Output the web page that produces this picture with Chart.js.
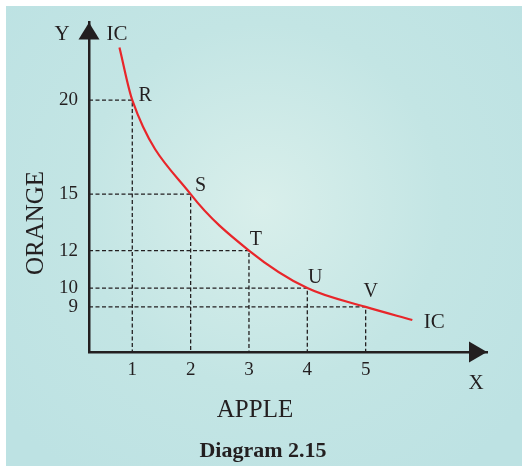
<!DOCTYPE html>
<html><head><meta charset="utf-8">
<script src="https://cdn.jsdelivr.net/npm/chart.js@4.4.1/dist/chart.umd.min.js"></script>
<style>html,body{margin:0;padding:0;background:#fff;overflow:hidden}</style>
</head><body>
<canvas id="c" width="522" height="467"></canvas>
<script>
// ---- data ----
const apple = [1, 2, 3, 4, 5];
const orange = [20, 15, 12, 10, 9];
const pointNames = ['R', 'S', 'T', 'U', 'V'];
const curveApple = [0.78, 1, 2, 3, 4, 5, 5.8];
const curveOrange = [22.8, 20, 15, 12, 10, 9, 8.3];
const xTicks = [1, 2, 3, 4, 5];
const yTicks = [20, 15, 12, 10, 9];
const xTitle = 'APPLE';
const yTitle = 'ORANGE';
const caption = 'Diagram 2.15';
const curveName = 'IC';

// ---- scale extents ----
const X_MIN = 0.258, X_MAX = 7.08, Y_MIN = 6.6, Y_MAX = 24.14;

const FONT = "'Liberation Serif', 'DejaVu Serif', serif";
const INK = '#231f20';

const datasets = [];
datasets.push({
  data: curveApple.map((x, i) => ({x, y: curveOrange[i]})),
  borderColor: '#e8262a', borderWidth: 2.2, pointRadius: 0,
  cubicInterpolationMode: 'monotone', fill: false
});
apple.forEach((a, i) => {
  datasets.push({
    data: [{x: X_MIN, y: orange[i]}, {x: a, y: orange[i]}, {x: a, y: Y_MIN}],
    borderColor: INK, borderWidth: 1.3, borderDash: [4, 2.5],
    pointRadius: 0, tension: 0, fill: false
  });
});

const bgPlugin = {
  id: 'bg',
  beforeDraw(chart) {
    const ctx = chart.ctx;
    ctx.save();
    ctx.fillStyle = '#ffffff';
    ctx.fillRect(0, 0, chart.width, chart.height);
    const g = ctx.createRadialGradient(262, 205, 0, 262, 205, 330);
    g.addColorStop(0, '#d9efeb');
    g.addColorStop(0.55, '#c3e5e4');
    g.addColorStop(1, '#bde2e3');
    ctx.fillStyle = g;
    ctx.fillRect(6, 6, chart.width - 6, chart.height - 7);
    ctx.restore();
  }
};

const annoPlugin = {
  id: 'anno',
  afterDraw(chart) {
    const ctx = chart.ctx;
    const xs = chart.scales.x, ys = chart.scales.y;
    const ca = chart.chartArea;
    ctx.save();
    ctx.fillStyle = INK;
    // arrowheads
    const ax = xs.getPixelForValue(X_MIN), ay = ys.getPixelForValue(Y_MIN);
    ctx.beginPath();
    ctx.moveTo(ax, ca.top);
    ctx.lineTo(ax - 10.5, ca.top + 17);
    ctx.lineTo(ax + 10.5, ca.top + 17);
    ctx.closePath(); ctx.fill();
    ctx.beginPath();
    ctx.moveTo(ca.right, ay);
    ctx.lineTo(ca.right - 18, ay - 10.5);
    ctx.lineTo(ca.right - 18, ay + 10.5);
    ctx.closePath(); ctx.fill();

    ctx.textAlign = 'center';
    ctx.textBaseline = 'middle';
    // point labels
    const offs = [[13, -4], [10, -8], [7, -11], [8, -10], [5, -15]];
    ctx.font = '20px ' + FONT;
    apple.forEach((a, i) => {
      ctx.fillText(pointNames[i], xs.getPixelForValue(a) + offs[i][0], ys.getPixelForValue(orange[i]) + offs[i][1]);
    });
    // IC labels
    ctx.font = '21px ' + FONT;
    ctx.fillText(curveName, ax + 28, ca.top + 12);
    const n = curveApple.length - 1;
    ctx.fillText(curveName, xs.getPixelForValue(curveApple[n]) + 22, ys.getPixelForValue(curveOrange[n]) + 2);
    // axis letters
    ctx.fillText('Y', ax - 27, ca.top + 12);
    ctx.fillText('X', ca.right - 11, ay + 31);
    // titles
    ctx.font = '25px ' + FONT;
    ctx.fillText(xTitle, 255, 410);
    ctx.save();
    ctx.translate(36, 223);
    ctx.rotate(-Math.PI / 2);
    ctx.fillText(yTitle, 0, 0);
    ctx.restore();
    ctx.font = 'bold 22px ' + FONT;
    ctx.fillText(caption, 263, 451);
    ctx.restore();
  }
};

new Chart(document.getElementById('c'), {
  type: 'line',
  data: {datasets},
  options: {
    responsive: false,
    animation: false,
    devicePixelRatio: 1,
    layout: {padding: {left: 0, top: 18, right: 35, bottom: 0}},
    plugins: {legend: {display: false}, tooltip: {enabled: false}},
    scales: {
      x: {
        type: 'linear', min: X_MIN, max: X_MAX,
        grid: {display: false, drawTicks: false},
        border: {display: true, color: INK, width: 2.5},
        afterBuildTicks: s => { s.ticks = xTicks.map(v => ({value: v})); },
        afterFit: s => { s.height = 115; },
        ticks: {color: INK, font: {family: FONT, size: 19}, padding: 7, maxRotation: 0}
      },
      y: {
        type: 'linear', min: Y_MIN, max: Y_MAX,
        grid: {display: false, drawTicks: false},
        border: {display: true, color: INK, width: 2.5},
        afterBuildTicks: s => { s.ticks = yTicks.map(v => ({value: v})); },
        afterFit: s => { s.width = 89; },
        ticks: {color: INK, font: {family: FONT, size: 19}, padding: 11}
      }
    }
  },
  plugins: [bgPlugin, annoPlugin]
});
</script>
</body></html>
